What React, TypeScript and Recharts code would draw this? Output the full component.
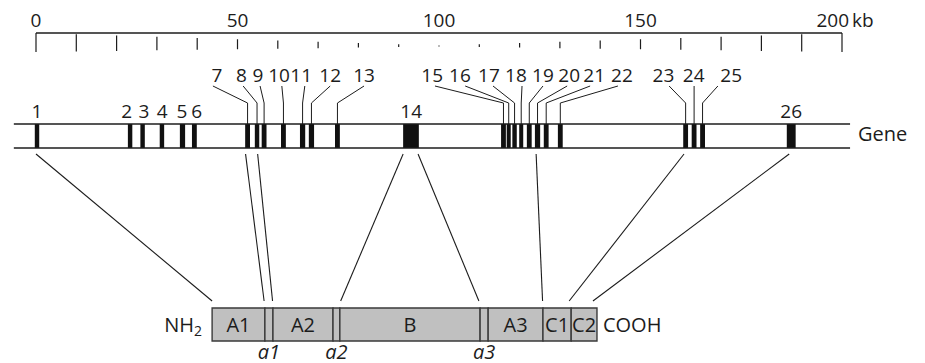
import { ComposedChart, XAxis, YAxis, ReferenceLine, ReferenceArea, Scatter } from 'recharts';

// kb ruler
const scaleLabels = [0, 50, 100, 150, 200];
const scaleMinorTicks = [0, 10, 20, 30, 40, 50, 60, 70, 80, 90, 100, 110, 120, 130, 140, 150, 160, 170, 180, 190, 200];

// gene body (kb)
const geneSpan = [-5.5, 202];

// exons 1..26, kb
const exonIds = [1, 2, 3, 4, 5, 6, 7, 8, 9, 10, 11, 12, 13, 14, 15, 16, 17, 18, 19, 20, 21, 22, 23, 24, 25, 26];
const exonStart = [-0.3, 22.8, 25.9, 30.7, 35.7, 38.7, 51.9, 54.3, 56.0, 60.8, 65.5, 67.7, 74.2, 91.1, 115.4, 116.8, 118.2, 119.9, 121.8, 123.8, 126.0, 129.5, 160.6, 162.7, 164.8, 186.3];
const exonEnd = [0.8, 23.9, 27.0, 31.8, 37.0, 39.9, 53.1, 55.4, 57.2, 62.0, 66.8, 69.0, 75.4, 95.0, 116.6, 117.8, 119.3, 120.9, 123.0, 125.1, 127.2, 130.7, 161.8, 163.9, 166.0, 188.5];

// exons numbered right above the gene (kb of the number)
const lowerExons = [1, 2, 3, 4, 5, 6, 14, 26];
const lowerLabelKb = [0.25, 22.5, 26.8, 31.3, 36.2, 39.9, 93.1, 187.4];

// exons numbered on the upper row, with their label and leader start (kb)
const raisedExons = [7, 8, 9, 10, 11, 12, 13, 15, 16, 17, 18, 19, 20, 21, 22, 23, 24, 25];
const raisedLabelKb = [44.9, 51.0, 55.1, 60.3, 65.8, 73.0, 81.4, 98.3, 105.2, 112.4, 119.1, 125.8, 132.3, 138.5, 145.4, 155.7, 163.2, 172.5];
const raisedLeaderKb = [43.9, 51.4, 55.6, 61.0, 66.7, 73.0, 81.4, 99.0, 106.5, 113.4, 120.6, 125.8, 131.8, 137.5, 144.4, 157.1, 163.3, 169.2];

// lines from the gene down to the protein
const connectorGeneKb = [0, 52.0, 55.0, 91.1, 94.8, 124.1, 160.8, 186.9];
const connectorProteinKb = [43.7, 56.6, 58.7, 75.6, 109.9, 125.7, 132.3, 138.2];

// factor VIII protein domains, drawn on the same axis
const domainNames = ['A1', 'a1', 'A2', 'a2', 'B', 'a3', 'A3', 'C1', 'C2'];
const domainEdges = [43.7, 56.8, 58.8, 73.7, 75.4, 110.2, 112.2, 125.8, 132.8, 139.2];

const W = 925;
const H = 380;
const PX0 = 36;
const KB_PX = 4.03;
const FONT = '"Open Sans", sans-serif';
const INK = '#1c1c1c';

// vertical layout (y axis runs in px from the ruler down)
const RULER_Y = 33;
const ROW1 = 82;
const LEAD_TOP = 86;
const LEAD_KNEE = 103;
const ROW2 = 118;
const GENE_TOP = 124;
const GENE_BOT = 148;
const CONN_TOP = 154;
const CONN_BOT = 301;
const PROT_TOP = 308;
const PROT_BOT = 341;

const exonCenter = (i: number) => (exonStart[i] + exonEnd[i]) / 2;

const exonLabels = [
  ...lowerExons.map((id, i) => ({ x: lowerLabelKb[i], y: ROW2, label: String(id) })),
  ...raisedExons.map((id, i) => ({ x: raisedLabelKb[i], y: ROW1, label: String(id) })),
];

const ScaleTick = ({ x, y, payload }: any) => {
  const txt = { fontFamily: FONT, fontSize: 19, fill: INK };
  if (payload.value === 200) {
    return (
      <g>
        <text x={x + 7} y={y} textAnchor="end" {...txt}>200</text>
        <text x={x + 10} y={y} textAnchor="start" {...txt}>kb</text>
      </g>
    );
  }
  return <text x={x} y={y} textAnchor="middle" {...txt}>{payload.value}</text>;
};

export default function App() {
  return (
    <div style={{ position: 'fixed', left: 0, top: 0, width: W, height: 363, overflow: 'hidden', background: '#fff' }}>
      <ComposedChart width={W} height={H} margin={{ top: 0, right: 0, bottom: 0, left: 0 }}>
        <XAxis
          xAxisId={0}
          dataKey="x"
          type="number"
          orientation="top"
          height={RULER_Y}
          domain={[-PX0 / KB_PX, (W - PX0) / KB_PX]}
          ticks={scaleLabels}
          axisLine={false}
          tickLine={false}
          tickSize={4}
          tickMargin={2}
          tick={<ScaleTick />}
          interval={0}
        />
        <YAxis yAxisId={0} dataKey="y" type="number" domain={[RULER_Y, H]} reversed hide />

        {/* ruler */}
        <ReferenceLine segment={[{ x: 0, y: RULER_Y }, { x: 200, y: RULER_Y }]} stroke={INK} strokeWidth={1.3} ifOverflow="visible" />
        {scaleMinorTicks.map(k => {
          const d = Math.abs(k - 100) / 100;
          const len = 1 + 18 * d;
          const mid = 46 - 3.5 * d;
          return (
            <ReferenceLine
              key={`t${k}`}
              segment={[{ x: k, y: mid - len / 2 }, { x: k, y: mid + len / 2 }]}
              stroke={INK}
              strokeWidth={1.2}
              ifOverflow="visible"
            />
          );
        })}

        {/* gene */}
        <ReferenceLine segment={[{ x: geneSpan[0], y: GENE_TOP }, { x: geneSpan[1], y: GENE_TOP }]} stroke={INK} strokeWidth={1.3} ifOverflow="visible" />
        <ReferenceLine segment={[{ x: geneSpan[0], y: GENE_BOT }, { x: geneSpan[1], y: GENE_BOT }]} stroke={INK} strokeWidth={1.3} ifOverflow="visible" />
        {exonIds.map((id, i) => (
          <ReferenceArea
            key={`e${id}`}
            x1={exonStart[i]}
            x2={exonEnd[i]}
            y1={GENE_TOP}
            y2={GENE_BOT}
            fill="#111"
            fillOpacity={1}
            stroke="none"
            ifOverflow="visible"
          />
        ))}

        {/* leaders for the upper label row */}
        {raisedExons.map((id, r) => {
          const c = exonCenter(exonIds.indexOf(id));
          return [
            <ReferenceLine
              key={`la${id}`}
              segment={[{ x: raisedLeaderKb[r], y: LEAD_TOP }, { x: c, y: LEAD_KNEE }]}
              stroke={INK}
              strokeWidth={1}
              ifOverflow="visible"
            />,
            <ReferenceLine
              key={`lb${id}`}
              segment={[{ x: c, y: LEAD_KNEE }, { x: c, y: GENE_TOP }]}
              stroke={INK}
              strokeWidth={1}
              ifOverflow="visible"
            />,
          ];
        })}

        {/* gene -> protein */}
        {connectorGeneKb.map((g, i) => (
          <ReferenceLine
            key={`c${i}`}
            segment={[{ x: g, y: CONN_TOP }, { x: connectorProteinKb[i], y: CONN_BOT }]}
            stroke={INK}
            strokeWidth={1.1}
            ifOverflow="visible"
          />
        ))}

        {/* protein domains */}
        {domainNames.map((name, i) => {
          const linker = name === name.toLowerCase();
          return (
            <ReferenceArea
              key={`d${name}`}
              x1={domainEdges[i]}
              x2={domainEdges[i + 1]}
              y1={PROT_TOP}
              y2={PROT_BOT}
              fill="#c0c0c0"
              fillOpacity={1}
              stroke="#3a3a3a"
              strokeWidth={1.4}
              ifOverflow="visible"
              label={
                linker
                  ? { value: name, position: 'bottom', offset: 4, fontSize: 20, fontFamily: FONT, fontStyle: 'italic', fill: INK }
                  : { value: name, position: 'center', fontSize: 20, fontFamily: FONT, fill: INK }
              }
            />
          );
        })}

        <Scatter
          data={exonLabels}
          isAnimationActive={false}
          shape={(p: any) => (
            <text x={p.cx} y={p.cy} textAnchor="middle" fontFamily={FONT} fontSize={19} fill={INK}>
              {p.payload.label}
            </text>
          )}
        />
        <Scatter
          data={[{ x: geneSpan[1], y: 141 }]}
          isAnimationActive={false}
          shape={(p: any) => (
            <text x={p.cx + 8} y={p.cy} fontFamily={FONT} fontSize={20} fill={INK}>Gene</text>
          )}
        />
        <Scatter
          data={[{ x: domainEdges[0], y: 332 }]}
          isAnimationActive={false}
          shape={(p: any) => (
            <text x={p.cx - 10} y={p.cy} textAnchor="end" fontFamily={FONT} fontSize={20} fill={INK}>
              NH<tspan fontSize={14} dy={4}>2</tspan>
            </text>
          )}
        />
        <Scatter
          data={[{ x: domainEdges[domainEdges.length - 1], y: 332 }]}
          isAnimationActive={false}
          shape={(p: any) => (
            <text x={p.cx + 6} y={p.cy} fontFamily={FONT} fontSize={20} fill={INK}>COOH</text>
          )}
        />
      </ComposedChart>
    </div>
  );
}
